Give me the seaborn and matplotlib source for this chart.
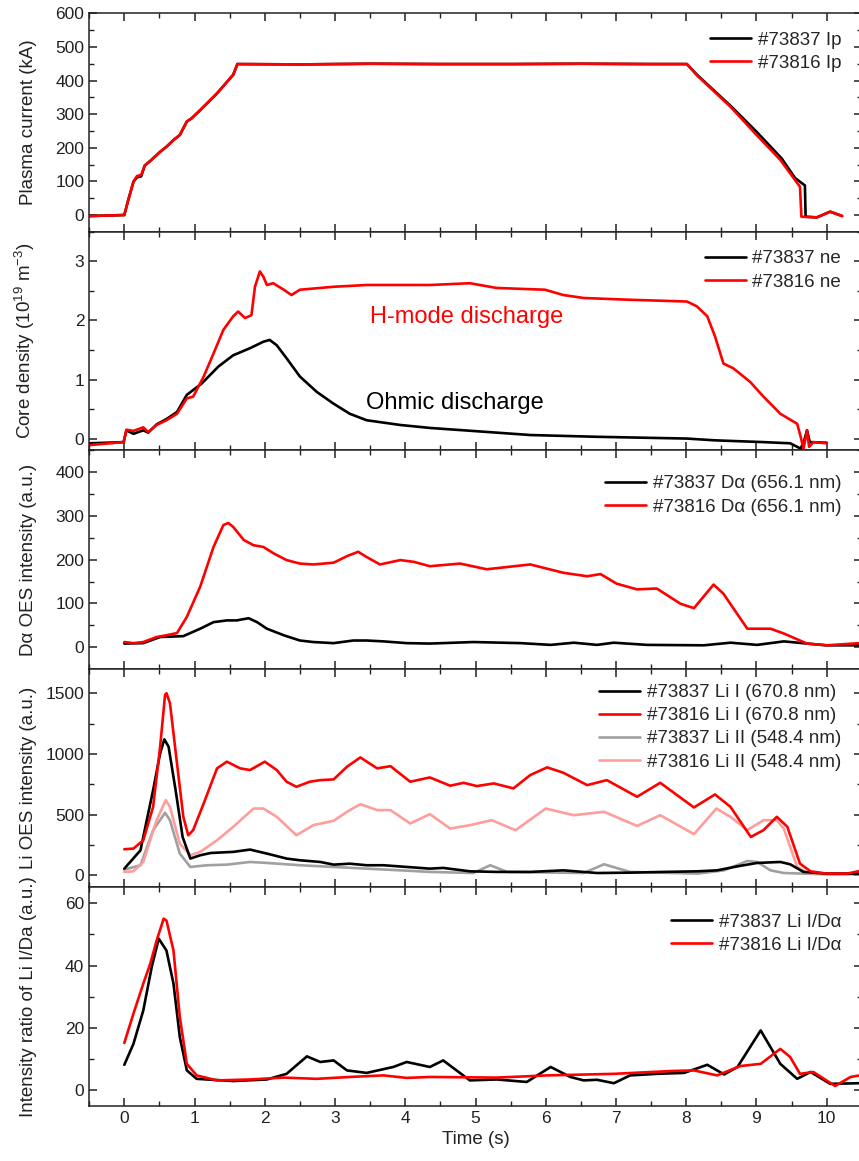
import numpy as np
import pandas as pd
import matplotlib
matplotlib.use("Agg")
import matplotlib.pyplot as plt
from matplotlib.ticker import MultipleLocator
import seaborn as sns

# ---------------- data ----------------
# Panel 1: plasma current (kA)
ip16_t = [-0.49, 0.0, 0.05, 0.13, 0.18, 0.24, 0.29, 0.37, 0.51, 0.60, 0.70, 0.79, 0.89, 0.96,
          1.08, 1.32, 1.55, 1.61, 2.5, 3.5, 4.5, 5.5, 6.5, 7.5, 8.01, 8.15, 8.63, 8.98, 9.34,
          9.62, 9.64, 9.86, 10.05, 10.22]
ip16_v = [-3, 0, 40, 99, 116, 119, 147, 161, 188, 203, 223, 238, 278, 288,
          312, 362, 417, 449, 448, 450, 449, 449, 450, 449, 449, 416, 322, 243, 164,
          84, -5, -7, 10, -3]
ip37_t = [-0.49, 0.0, 0.05, 0.13, 0.18, 0.24, 0.29, 0.37, 0.51, 0.60, 0.70, 0.79, 0.89, 0.96,
          1.08, 1.32, 1.55, 1.61, 2.5, 3.5, 4.5, 5.5, 6.5, 7.5, 8.01, 8.15, 8.63, 9.00, 9.36,
          9.55, 9.69, 9.70, 9.86, 10.05, 10.22]
ip37_v = [-3, 0, 40, 99, 112, 115, 147, 161, 188, 203, 223, 238, 278, 288,
          312, 362, 417, 449, 448, 450, 449, 449, 450, 449, 449, 418, 325, 248, 168,
          110, 88, -5, -7, 10, -3]

# Panel 2: core density (1e19 m^-3)
ne16_t = [-0.49, -0.01, 0.03, 0.13, 0.27, 0.34, 0.46, 0.60, 0.75, 0.89, 0.98, 1.13, 1.27, 1.41,
          1.55, 1.62, 1.72, 1.81, 1.86, 1.93, 1.98, 2.03, 2.12, 2.27, 2.38, 2.50, 2.98, 3.45,
          4.35, 4.92, 5.30, 5.99, 6.25, 6.54, 7.20, 8.01, 8.15, 8.30, 8.41, 8.53, 8.67, 8.91,
          9.10, 9.34, 9.58, 9.63, 9.67, 9.72, 9.75, 9.81, 10.0]
ne16_v = [-0.11, -0.06, 0.15, 0.13, 0.19, 0.11, 0.23, 0.31, 0.42, 0.68, 0.71, 1.05, 1.44, 1.84,
          2.07, 2.15, 2.04, 2.09, 2.57, 2.83, 2.74, 2.60, 2.63, 2.52, 2.43, 2.52, 2.57, 2.60,
          2.60, 2.63, 2.55, 2.52, 2.43, 2.38, 2.35, 2.32, 2.24, 2.07, 1.73, 1.27, 1.19, 0.96,
          0.71, 0.42, 0.25, 0.03, -0.17, 0.14, -0.14, -0.06, -0.08]
ne37_t = [-0.49, -0.01, 0.03, 0.13, 0.27, 0.34, 0.46, 0.60, 0.75, 0.89, 1.10, 1.34, 1.55, 1.79,
          1.98, 2.07, 2.17, 2.31, 2.50, 2.74, 2.98, 3.21, 3.45, 3.93, 4.35, 4.83, 5.78, 6.73,
          8.01, 8.41, 9.10, 9.48, 9.63, 9.68, 9.72, 9.76, 10.0]
ne37_v = [-0.08, -0.06, 0.14, 0.08, 0.14, 0.10, 0.24, 0.33, 0.45, 0.74, 0.93, 1.22, 1.41, 1.53,
          1.64, 1.67, 1.58, 1.36, 1.05, 0.79, 0.59, 0.42, 0.31, 0.23, 0.18, 0.14, 0.06, 0.03,
          0.0, -0.03, -0.06, -0.08, -0.17, -0.03, 0.14, -0.06, -0.07]

# Panel 3: D-alpha OES intensity (a.u.)
da16_t = [0.0, 0.13, 0.27, 0.46, 0.60, 0.75, 0.89, 1.08, 1.27, 1.41, 1.48, 1.55, 1.70, 1.84,
          1.98, 2.13, 2.31, 2.50, 2.69, 2.98, 3.17, 3.33, 3.45, 3.64, 3.93, 4.12, 4.35, 4.78,
          5.16, 5.78, 6.25, 6.59, 6.78, 7.01, 7.30, 7.58, 7.92, 8.11, 8.39, 8.53, 8.87, 9.20,
          9.39, 9.72, 10.0, 10.47]
da16_v = [11.5, 9, 11.5, 23, 27, 32, 69, 138, 229, 279, 284, 275, 245, 233,
          229, 214, 199, 191, 189, 193, 208, 218, 206, 189, 199, 195, 185, 191,
          178, 189, 170, 162, 167, 145, 132, 134, 99, 89, 143, 122, 42, 42,
          31, 8, 4, 9]
da37_t = [0.0, 0.27, 0.51, 0.84, 1.08, 1.27, 1.46, 1.60, 1.77, 1.89, 2.03, 2.27, 2.50, 2.69,
          2.98, 3.26, 3.45, 3.69, 4.02, 4.35, 4.97, 5.64, 6.07, 6.40, 6.73, 6.97, 7.44, 8.25,
          8.63, 9.01, 9.39, 9.72, 10.0, 10.47]
da37_v = [8, 9, 23, 25, 42, 57, 61, 61, 66, 57, 42, 27, 15, 11.5,
          9, 15, 15, 13, 9, 8, 11.5, 9, 5, 10, 5, 10, 5, 4,
          10, 5, 13, 8, 4, 4]

# Panel 4: Li OES intensity (a.u.)
li1_16_t = [0.0, 0.13, 0.27, 0.41, 0.51, 0.58, 0.60, 0.65, 0.75, 0.84, 0.91, 0.98, 1.13, 1.32,
            1.46, 1.65, 1.79, 2.00, 2.17, 2.31, 2.45, 2.64, 2.79, 2.98, 3.17, 3.36, 3.60, 3.79,
            4.07, 4.35, 4.64, 4.83, 5.02, 5.26, 5.54, 5.78, 6.02, 6.25, 6.59, 6.87, 7.30, 7.63,
            8.11, 8.41, 8.63, 8.92, 9.10, 9.29, 9.44, 9.62, 9.77, 10.0, 10.29, 10.47]
li1_16_v = [215, 220, 289, 564, 1060, 1486, 1500, 1417, 922, 482, 330, 372, 592, 881,
            936, 881, 867, 936, 867, 771, 729, 771, 784, 790, 894, 971, 881, 899,
            771, 806, 738, 762, 735, 757, 716, 826, 889, 845, 743, 784, 647, 762,
            559, 666, 564, 316, 372, 482, 399, 96, 33, 14, 14, 36]
li1_37_t = [0.0, 0.23, 0.41, 0.51, 0.57, 0.63, 0.73, 0.83, 0.94, 1.08, 1.23, 1.55, 1.79, 2.03,
            2.31, 2.50, 2.79, 2.98, 3.21, 3.45, 3.69, 4.02, 4.35, 4.54, 4.92, 5.30, 5.78, 6.25,
            6.73, 7.20, 7.68, 8.16, 8.44, 8.73, 9.01, 9.34, 9.48, 9.67, 10.0, 10.47]
li1_37_v = [55, 206, 702, 1005, 1120, 1060, 702, 316, 138, 165, 184, 193, 212, 179,
            138, 124, 110, 88, 96, 83, 83, 69, 55, 61, 33, 28, 28, 41,
            19, 22, 28, 33, 41, 74, 102, 110, 91, 28, 14, 14]
li2_37_t = [0.0, 0.23, 0.41, 0.58, 0.65, 0.79, 0.94, 1.18, 1.46, 1.79, 2.03, 2.50, 2.98, 3.45,
            3.93, 4.35, 4.97, 5.21, 5.45, 6.54, 6.83, 7.20, 8.16, 8.54, 8.87, 9.01, 9.20, 9.39,
            10.0, 10.47]
li2_37_v = [47, 83, 372, 515, 454, 179, 69, 83, 88, 110, 102, 83, 69, 55,
            41, 28, 19, 83, 28, 19, 91, 28, 14, 41, 118, 110, 41, 19,
            8, 8]
li2_16_t = [0.0, 0.13, 0.27, 0.46, 0.59, 0.65, 0.79, 0.94, 1.08, 1.32, 1.55, 1.84, 1.98, 2.17,
            2.45, 2.69, 2.98, 3.17, 3.36, 3.60, 3.79, 4.07, 4.35, 4.64, 4.92, 5.23, 5.57, 6.00,
            6.40, 6.83, 7.30, 7.63, 8.11, 8.43, 8.63, 8.87, 9.10, 9.29, 9.39, 9.58, 9.72, 10.0,
            10.47]
li2_16_v = [28, 33, 110, 454, 619, 564, 261, 165, 193, 289, 399, 550, 550, 482,
            330, 413, 449, 523, 586, 537, 537, 427, 504, 385, 413, 454, 372, 550,
            495, 523, 407, 495, 339, 550, 482, 372, 454, 454, 385, 69, 19, 14,
            14]

# Panel 5: Li I / D-alpha ratio
r16_t = [0.0, 0.13, 0.27, 0.37, 0.46, 0.56, 0.60, 0.70, 0.79, 0.89, 1.03, 1.32, 1.79, 2.27,
         2.74, 3.21, 3.69, 4.02, 4.35, 5.30, 6.02, 6.97, 7.78, 8.11, 8.44, 8.77, 9.06, 9.34,
         9.48, 9.62, 9.81, 10.12, 10.34, 10.47]
r16_v = [15.2, 24.6, 34.2, 40.6, 48.0, 55.0, 54.4, 44.8, 23.5, 8.5, 4.8, 3.2, 3.5, 4.1,
         3.7, 4.3, 4.8, 4.0, 4.3, 4.1, 4.8, 5.3, 6.2, 6.4, 4.8, 7.8, 8.5, 13.3,
         10.7, 5.3, 5.9, 1.4, 4.3, 4.8]
r37_t = [0.0, 0.13, 0.27, 0.39, 0.49, 0.60, 0.70, 0.79, 0.89, 1.03, 1.55, 2.03, 2.31, 2.60,
         2.79, 2.98, 3.17, 3.45, 3.83, 4.02, 4.35, 4.54, 4.92, 5.30, 5.73, 6.07, 6.35, 6.54,
         6.73, 6.97, 7.20, 7.58, 7.97, 8.30, 8.54, 8.73, 9.06, 9.34, 9.58, 9.77, 10.05, 10.47]
r37_v = [8.2, 14.9, 25.6, 39.5, 48.6, 44.8, 34.2, 17.1, 6.4, 3.7, 3.0, 3.5, 5.3, 10.9,
         9.1, 9.6, 6.4, 5.6, 7.5, 9.1, 7.5, 9.6, 3.2, 3.5, 2.7, 7.5, 4.3, 3.2,
         3.4, 2.3, 4.8, 5.3, 5.6, 8.2, 5.1, 7.5, 19.2, 8.5, 3.7, 5.9, 2.1, 2.3]

x_ticks = list(range(0, 11))

# ---------------- style ----------------
sns.set_theme(style="ticks")
plt.rcParams["font.family"] = ["Liberation Sans", "DejaVu Sans"]
plt.rcParams["mathtext.fontset"] = "custom"
plt.rcParams["mathtext.rm"] = "Liberation Sans"
plt.rcParams["mathtext.it"] = "Liberation Sans"

BLACK = "#000000"
RED = "#ff0000"
GRAY = "#a0a0a0"
PINK = "#ff9c9c"
LW = 1.9

W, H = 859, 1161
fig = plt.figure(figsize=(W / 100, H / 100), dpi=100)
left_px, right_px = 89.2, 861.8
top_px, bot_px = 13.3, 1106.0
panel_h = (bot_px - top_px) / 5
axes = []
for i in range(5):
    y0 = top_px + i * panel_h
    ax = fig.add_axes([left_px / W, 1 - (y0 + panel_h) / H,
                       (right_px - left_px) / W, panel_h / H])
    axes.append(ax)


def draw(ax, t, v, color, label):
    df = pd.DataFrame({"t": t, "v": v})
    sns.lineplot(data=df, x="t", y="v", ax=ax, color=color, lw=LW, label=label,
                 estimator=None, sort=False)


draw(axes[0], ip37_t, ip37_v, BLACK, "#73837 Ip")
draw(axes[0], ip16_t, ip16_v, RED, "#73816 Ip")
draw(axes[1], ne37_t, ne37_v, BLACK, "#73837 ne")
draw(axes[1], ne16_t, ne16_v, RED, "#73816 ne")
draw(axes[2], da37_t, da37_v, BLACK, "#73837 D\u03b1 (656.1 nm)")
draw(axes[2], da16_t, da16_v, RED, "#73816 D\u03b1 (656.1 nm)")
draw(axes[3], li2_37_t, li2_37_v, GRAY, "#73837 Li II (548.4 nm)")
draw(axes[3], li2_16_t, li2_16_v, PINK, "#73816 Li II (548.4 nm)")
draw(axes[3], li1_37_t, li1_37_v, BLACK, "#73837 Li I (670.8 nm)")
draw(axes[3], li1_16_t, li1_16_v, RED, "#73816 Li I (670.8 nm)")
draw(axes[4], r37_t, r37_v, BLACK, "#73837 Li I/D\u03b1")
draw(axes[4], r16_t, r16_v, RED, "#73816 Li I/D\u03b1")

ylims = [(-50, 600), (-0.2, 3.5), (-50, 450), (-100, 1700), (-5, 65)]
majors = [100, 1, 100, 500, 20]
ylabels = ["Plasma current (kA)",
           "Core density (10$^{19}$ m$^{-3}$)",
           "D\u03b1 OES intensity (a.u.)",
           "Li OES intensity (a.u.)",
           "Intensity ratio of Li I/Da (a.u.)"]
legend_orders = [None, None, None, [2, 3, 0, 1], None]
legend_anchor_y = [0.95, 0.95, 0.92, 0.965, 0.915]

for i, ax in enumerate(axes):
    ax.set_xlim(-0.5, 10.5)
    ax.set_ylim(*ylims[i])
    ax.xaxis.set_major_locator(MultipleLocator(1))
    ax.xaxis.set_minor_locator(MultipleLocator(0.5))
    ax.yaxis.set_major_locator(MultipleLocator(majors[i]))
    ax.yaxis.set_minor_locator(MultipleLocator(majors[i] / 2))
    ax.tick_params(which="both", direction="in", top=True, right=True,
                   colors="#222222", labelsize=12.5)
    ax.tick_params(which="major", length=6, width=1.1)
    ax.tick_params(which="minor", length=3.5, width=1.0)
    for sp in ax.spines.values():
        sp.set_linewidth(1.1)
        sp.set_color("#222222")
    ax.set_ylabel(ylabels[i], fontsize=13.5, color="#222222")
    ax.yaxis.set_label_coords(-0.068, 0.5)
    if i < 4:
        ax.set_xlabel("")
        ax.tick_params(labelbottom=False)
    else:
        ax.set_xticks(x_ticks)
        ax.set_xlabel("Time (s)", fontsize=13.5, color="#222222")
    handles, labels = ax.get_legend_handles_labels()
    if legend_orders[i] is not None:
        handles = [handles[k] for k in legend_orders[i]]
        labels = [labels[k] for k in legend_orders[i]]
    ax.legend(handles, labels, loc="upper right", frameon=False, fontsize=13.5,
              handlelength=2.2, handletextpad=0.35, labelspacing=0.32,
              borderaxespad=0.0, bbox_to_anchor=(0.983, legend_anchor_y[i]))

axes[1].text(4.87, 2.05, "H-mode discharge", color=RED, fontsize=17,
             ha="center", va="center")
axes[1].text(4.71, 0.60, "Ohmic discharge", color=BLACK, fontsize=17,
             ha="center", va="center")

fig.savefig("out.png", dpi=100)
